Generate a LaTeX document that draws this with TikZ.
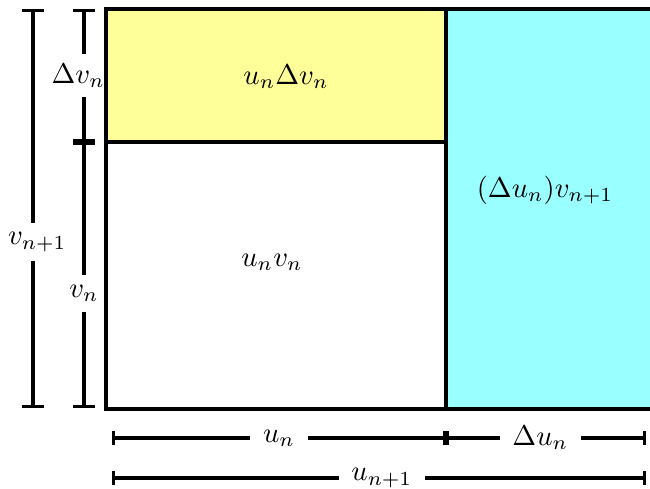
\documentclass[tikz,border=0pt]{standalone}
\usepackage{amsmath,amssymb}
\usetikzlibrary{arrows.meta}
\definecolor{lemon}{HTML}{FFFF99}
\definecolor{aqua}{HTML}{99FFFF}
\tikzset{px/.style={x=0.35pt,y=-0.35pt,line width=1.1pt},
  dimv/.style={{Bar[width=7.7pt]}-{Bar[width=7.7pt]}},
  dimh/.style={{Bar[width=5pt]}-{Bar[width=5pt]}},
  lblv/.style={fill=white,inner xsep=1pt,inner ysep=3.5pt},
  lblh/.style={fill=white,inner xsep=4.5pt,inner ysep=1pt}}

\begin{document}
\begin{tikzpicture}[px]
  \useasboundingbox (0,0) rectangle (650,489);
  \clip (0,0) rectangle (650,489);
  % corner points
  \coordinate (tl) at (106,9);\coordinate (tm) at (446,9);\coordinate (tr) at (660,9);
  \coordinate (ml) at (106,142);\coordinate (mm) at (446,142);
  \coordinate (bl) at (106,409);\coordinate (bm) at (446,409);\coordinate (br) at (660,409);
  % dimensions on the left
  \coordinate (o1) at (33,9);\coordinate (o2) at (33,408);
  \coordinate (i1) at (84,9);\coordinate (i2) at (84,142);\coordinate (i3) at (84,408);
  \draw[dimv] (o1)--(o2) node[pos=.584,lblv,xshift=1.5pt] (lvnn){$v_{n+1}$};
  \draw[dimv] (i1)--(i2) node[midway,lblv,xshift=-2pt] (ldvn){$\Delta v_n$};
  \draw[dimv] (i2)--(i3) node[pos=.57,lblv] (lvn){$v_n$};
  % dimensions below
  \coordinate (h1) at (112,438);\coordinate (h2) at (446,438);\coordinate (h3) at (646,438);
  \coordinate (k1) at (112,478);\coordinate (k2) at (646,478);
  \draw[dimh] (h1)--(h2) node[midway,lblh] (lun){$u_n$};
  \draw[dimh] (h2)--(h3) node[midway,lblh,xshift=-2pt] (ldun){$\Delta u_n$};
  \draw[dimh] (k1)--(k2) node[midway,lblh,xshift=1pt] (lunn){$u_{n+1}$};
  % the areas
  \filldraw[fill=aqua] (tm) rectangle (br);
  \filldraw[fill=lemon] (tl) rectangle (mm);
  \filldraw[fill=white] (ml) rectangle (bm);
  \node (aud) at (286,77){$u_n\Delta v_n$};
  \node (auv) at (272,262){$u_nv_n$};
  \node (adu) at (545,190){$(\Delta u_n)v_{n+1}$};
\end{tikzpicture}
\end{document}
